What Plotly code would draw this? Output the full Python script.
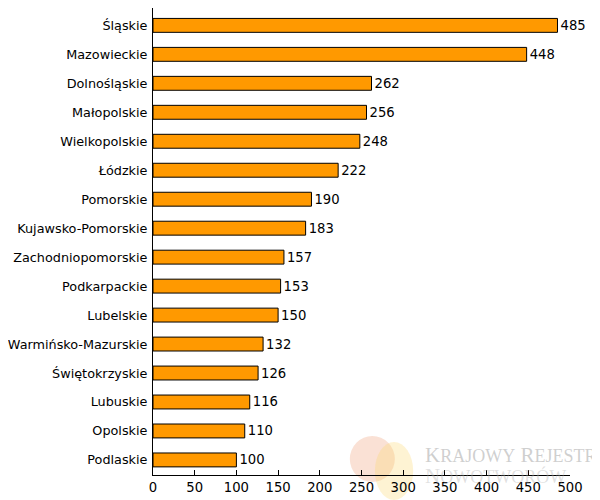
import plotly.graph_objects as go

regions = ["Śląskie", "Mazowieckie", "Dolnośląskie", "Małopolskie", "Wielkopolskie",
           "Łódzkie", "Pomorskie", "Kujawsko-Pomorskie", "Zachodniopomorskie",
           "Podkarpackie", "Lubelskie", "Warmińsko-Mazurskie", "Świętokrzyskie",
           "Lubuskie", "Opolskie", "Podlaskie"]
values = [485, 448, 262, 256, 248, 222, 190, 183, 157, 153, 150, 132, 126, 116, 110, 100]
x_ticks = [0, 50, 100, 150, 200, 250, 300, 350, 400, 450, 500]

cats = regions[::-1]
vals = values[::-1]

font = "Verdana, DejaVu Sans, sans-serif"
fs = 13.2

fig = go.Figure()
fig.add_trace(go.Bar(
    x=vals, y=cats, orientation="h",
    marker=dict(color="#ff9900", line=dict(color="#000000", width=1)),
    text=[str(v) for v in vals], textposition="outside", cliponaxis=False,
    constraintext="none",
    textfont=dict(family=font, size=fs, color="#000000"),
    width=0.48,
))

# page has an 8px body margin; size the figure so the plot lands where the reference has it
fig.update_layout(
    width=592, height=492,
    margin=dict(l=145, r=30, t=0, b=25, autoexpand=False),
    paper_bgcolor="white", plot_bgcolor="white",
    showlegend=False,
    font=dict(family=font, size=fs, color="#000000"),
    xaxis=dict(range=[0, 500], tickvals=x_ticks, showgrid=False, zeroline=False,
               showline=True, linecolor="#000000", linewidth=1, automargin=False,
               ticks="inside", ticklen=5, tickcolor="#000000",
               tickfont=dict(family=font, size=fs)),
    yaxis=dict(range=[-0.52, 15.6], showgrid=False, zeroline=False, automargin=False,
               showline=True, linecolor="#000000", linewidth=1,
               ticks="", ticklabelstandoff=2,
               tickfont=dict(family=font, size=12.8)),
)

# faint watermark (logo + text)
fig.add_shape(type="circle", xref="paper", yref="paper",
              x0=0.472, x1=0.580, y0=-0.015, y1=0.0835,
              fillcolor="rgba(240,170,135,0.35)", line=dict(width=0), layer="below")
fig.add_shape(type="circle", xref="paper", yref="paper",
              x0=0.532, x1=0.624, y0=-0.0535, y1=0.0707,
              fillcolor="rgba(252,215,110,0.30)", line=dict(width=0), layer="below")
fig.add_annotation(xref="paper", yref="paper", x=0.650, y=0.015, xanchor="left", yanchor="bottom",
                   text="K<span style='font-size:18px'>RAJOWY</span> R<span style='font-size:18px'>EJESTR</span>",
                   showarrow=False, borderpad=0,
                   font=dict(family="Liberation Serif, serif", size=21, color="rgba(175,175,175,0.6)"))
fig.add_annotation(xref="paper", yref="paper", x=0.650, y=0.026, xanchor="left", yanchor="top",
                   text="N<span style='font-size:18px'>OWOTWORÓW</span>",
                   showarrow=False, borderpad=0,
                   font=dict(family="Liberation Serif, serif", size=21, color="rgba(175,175,175,0.4)"))

fig.write_html("out.html")
